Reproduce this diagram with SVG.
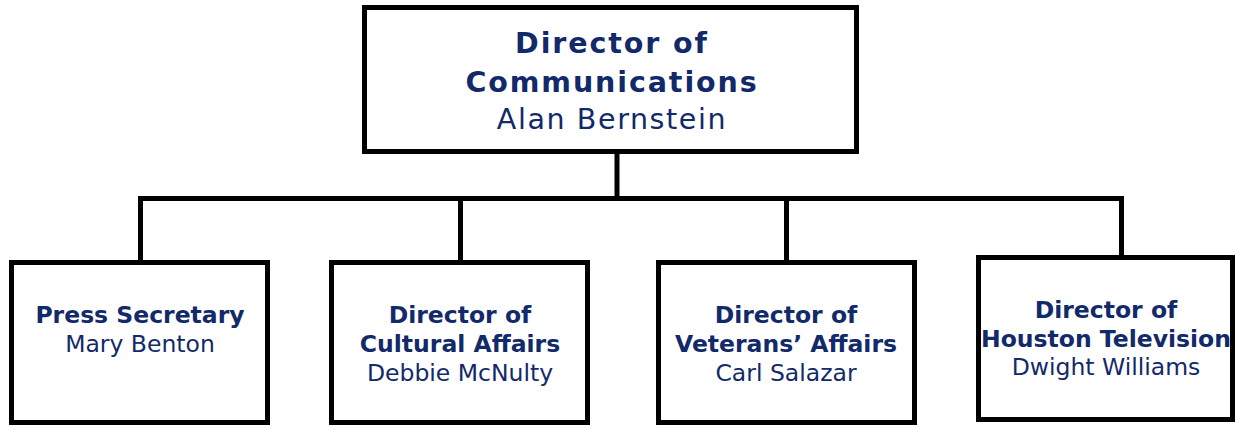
<svg xmlns="http://www.w3.org/2000/svg" width="1238" height="425" viewBox="0 0 1238 425">
  <style>
    .box { fill: #ffffff; stroke: #000000; stroke-width: 5; }
    .wire { fill: none; stroke: #000000; stroke-width: 5; stroke-linecap: square; }
    text { font-family: "DejaVu Sans", Verdana, sans-serif; fill: #12296a; text-anchor: middle; }
    .t-title { font-size: 28.5px; font-weight: bold; letter-spacing: 1.9px; }
    .t-name { font-size: 28.5px; letter-spacing: 1.6px; }
    .s-title { font-size: 23.5px; font-weight: bold; }
    .s-name { font-size: 23.5px; }
  </style>
  <rect width="1238" height="425" fill="#ffffff"/>

  <g id="connectors">
    <line class="wire" x1="617" y1="154" x2="617" y2="198"/>
    <polyline class="wire" points="140.5,260 140.5,198.5 1121.5,198.5 1121.5,255"/>
    <line class="wire" x1="460.5" y1="198.5" x2="460.5" y2="260"/>
    <line class="wire" x1="786.5" y1="198.5" x2="786.5" y2="260"/>
  </g>

  <g id="director-communications">
    <rect class="box" x="364.5" y="7.5" width="492" height="144"/>
    <text class="t-title" x="612" y="53">Director of</text>
    <text class="t-title" x="612" y="92">Communications</text>
    <text class="t-name" x="612" y="129">Alan Bernstein</text>
  </g>

  <g id="press-secretary">
    <rect class="box" x="11.5" y="262.5" width="256" height="160"/>
    <text class="s-title" x="140" y="323">Press Secretary</text>
    <text class="s-name" x="140" y="352">Mary Benton</text>
  </g>

  <g id="cultural-affairs">
    <rect class="box" x="331.5" y="262.5" width="256" height="160"/>
    <text class="s-title" x="460" y="323">Director of</text>
    <text class="s-title" x="460" y="352">Cultural Affairs</text>
    <text class="s-name" x="460" y="381">Debbie McNulty</text>
  </g>

  <g id="veterans-affairs">
    <rect class="box" x="658.5" y="262.5" width="256" height="160"/>
    <text class="s-title" x="786" y="323">Director of</text>
    <text class="s-title" x="786" y="352">Veterans’ Affairs</text>
    <text class="s-name" x="786" y="381">Carl Salazar</text>
  </g>

  <g id="houston-television">
    <rect class="box" x="978.5" y="257.5" width="254" height="162"/>
    <text class="s-title" x="1106" y="318">Director of</text>
    <text class="s-title" x="1106" y="347">Houston Television</text>
    <text class="s-name" x="1106" y="375">Dwight Williams</text>
  </g>
</svg>
